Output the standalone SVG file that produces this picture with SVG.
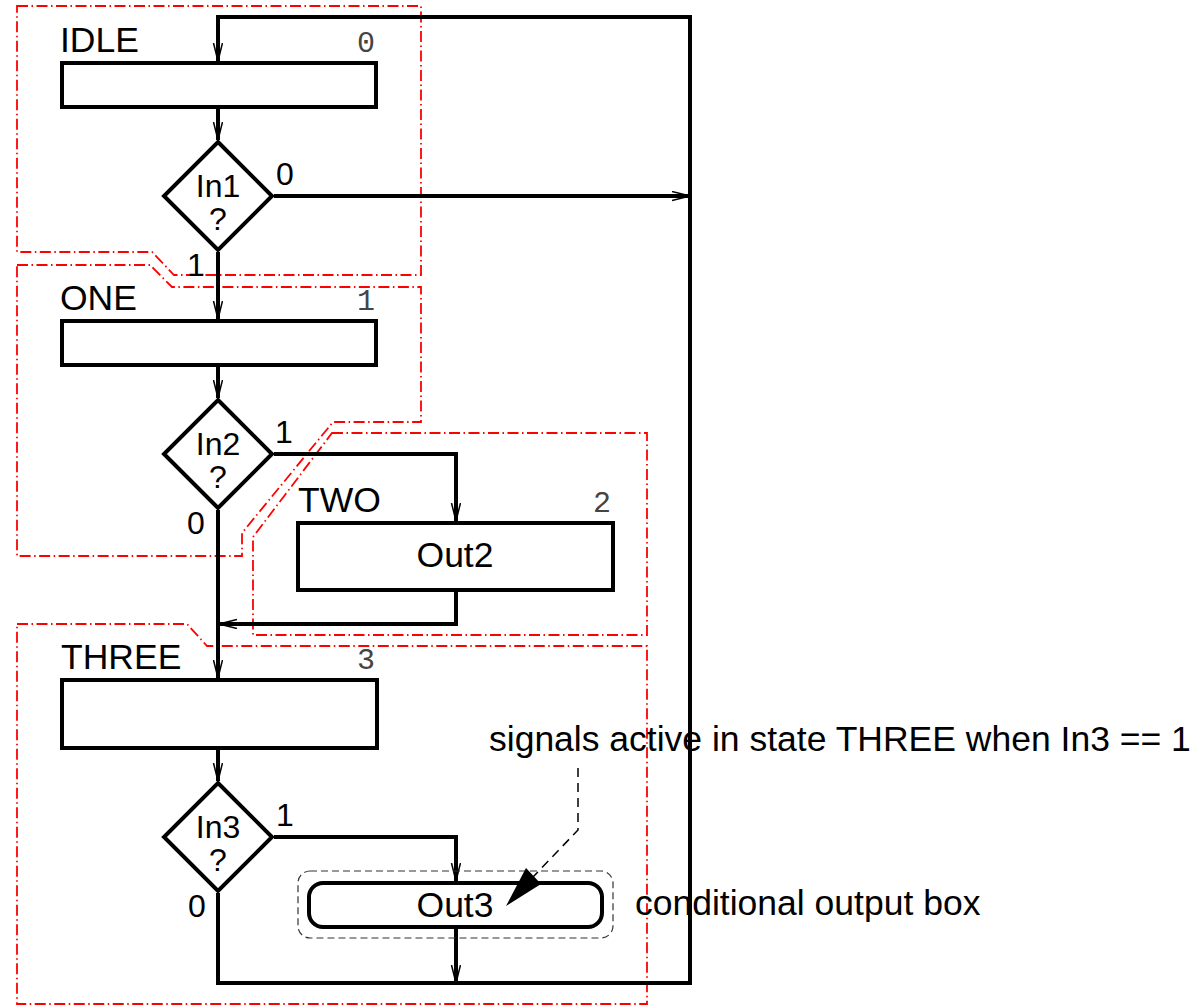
<svg xmlns="http://www.w3.org/2000/svg" width="1203" height="1006" viewBox="0 0 1203 1006">
<style>
.box{fill:#fff;stroke:#000;stroke-width:4}
.lbl{font-family:"Liberation Sans",Arial,sans-serif;font-size:35.5px;fill:#000}
.dec{font-family:"Liberation Sans",Arial,sans-serif;font-size:32px;fill:#000;text-anchor:middle}
.br{font-family:"Liberation Sans",Arial,sans-serif;font-size:32px;fill:#000}
.num{font-family:"Liberation Mono","Courier New",monospace;font-size:30px;fill:#444;text-anchor:end}
.bnd{fill:none;stroke:#f00;stroke-width:1.8;stroke-dasharray:11 3.5 1.5 3.5}
.wire{fill:none;stroke:#000;stroke-width:4;stroke-linejoin:miter}
</style>
<defs>
<marker id="ah" markerUnits="userSpaceOnUse" markerWidth="20" markerHeight="12" refX="18" refY="5" orient="auto">
<path d="M0,0.5 L18,5 L0,9.5" fill="none" stroke="#000" stroke-width="1.5"/>
</marker>
</defs>
<g id="boundaries">
<path class="bnd" d="M17,6 L421,6 L421,275 L174,275 L152,252 L17,252 Z"/>
<path class="bnd" d="M17,265 L150,265 L172,287 L421,287 L421,422 L333,422 L242,533 L242,556 L17,556 Z"/>
<path class="bnd" d="M332,433 L647,433 L647,635 L253,635 L253,537 Z"/>
<path class="bnd" d="M17,624 L187,624 L207,646 L647,646 L647,1004 L17,1004 Z"/>
</g>
<g id="connectors">
<path class="wire" d="M218,893 L218,983 L690,983 L690,17 L218,17 L218,61" marker-end="url(#ah)"/>
<path class="wire" d="M274,196 L690,196" marker-end="url(#ah)"/>
<path class="wire" d="M218,109 L218,140" marker-end="url(#ah)"/>
<path class="wire" d="M218,252 L218,319" marker-end="url(#ah)"/>
<path class="wire" d="M218,367 L218,398" marker-end="url(#ah)"/>
<path class="wire" d="M274,454 L456,454 L456,521" marker-end="url(#ah)"/>
<path class="wire" d="M218,510 L218,678" marker-end="url(#ah)"/>
<path class="wire" d="M456,592 L456,624 L219,624" marker-end="url(#ah)"/>
<path class="wire" d="M218,750 L218,781" marker-end="url(#ah)"/>
<path class="wire" d="M274,837 L456,837 L456,881" marker-end="url(#ah)"/>
<path class="wire" d="M456,929 L456,983" marker-end="url(#ah)"/>
</g>
<g id="IDLE">
<text class="lbl" x="60" y="52">IDLE</text>
<text class="num" x="375" y="52">0</text>
<rect class="box" x="62" y="63" width="314" height="44"/>
</g>
<g id="In1">
<polygon class="box" points="218,142 272,196 218,250 164,196"/>
<text class="dec" x="218" y="197">In1</text>
<text class="dec" x="218" y="230">?</text>
<text class="br" x="276" y="185">0</text>
<text class="br" x="187" y="276">1</text>
</g>
<g id="ONE">
<text class="lbl" x="60" y="310">ONE</text>
<text class="num" x="375" y="310">1</text>
<rect class="box" x="62" y="321" width="314" height="44"/>
</g>
<g id="In2">
<polygon class="box" points="218,400 272,454 218,508 164,454"/>
<text class="dec" x="218" y="455">In2</text>
<text class="dec" x="218" y="488">?</text>
<text class="br" x="275" y="443">1</text>
<text class="br" x="187" y="534">0</text>
</g>
<g id="TWO">
<text class="lbl" x="298" y="512">TWO</text>
<text class="num" x="611" y="512">2</text>
<rect class="box" x="298" y="523" width="315" height="67"/>
<text class="lbl" x="455" y="567" text-anchor="middle">Out2</text>
</g>
<g id="THREE">
<text class="lbl" x="61" y="669">THREE</text>
<text class="num" x="375" y="669">3</text>
<rect class="box" x="62" y="680" width="315" height="68"/>
</g>
<g id="In3">
<polygon class="box" points="218,783 272,837 218,891 164,837"/>
<text class="dec" x="218" y="838">In3</text>
<text class="dec" x="218" y="871">?</text>
<text class="br" x="276" y="826">1</text>
<text class="br" x="188" y="917">0</text>
</g>
<g id="Out3">
<rect x="298" y="871" width="315" height="67" rx="12" fill="none" stroke="#333" stroke-width="1.2" stroke-dasharray="7 4"/>
<rect class="box" x="309" y="883" width="293" height="44" rx="14"/>
<text class="lbl" x="455" y="917" text-anchor="middle">Out3</text>
</g>
<g id="annotation">
<text class="lbl" x="489" y="751">signals active in state THREE when In3 == 1</text>
<path d="M578,768 L578,830 L533,877" fill="none" stroke="#000" stroke-width="1.5" stroke-dasharray="9 6"/>
<polygon points="506,906 526,868 541,884" fill="#000"/>
<text class="lbl" x="635" y="915">conditional output box</text>
</g>
</svg>
